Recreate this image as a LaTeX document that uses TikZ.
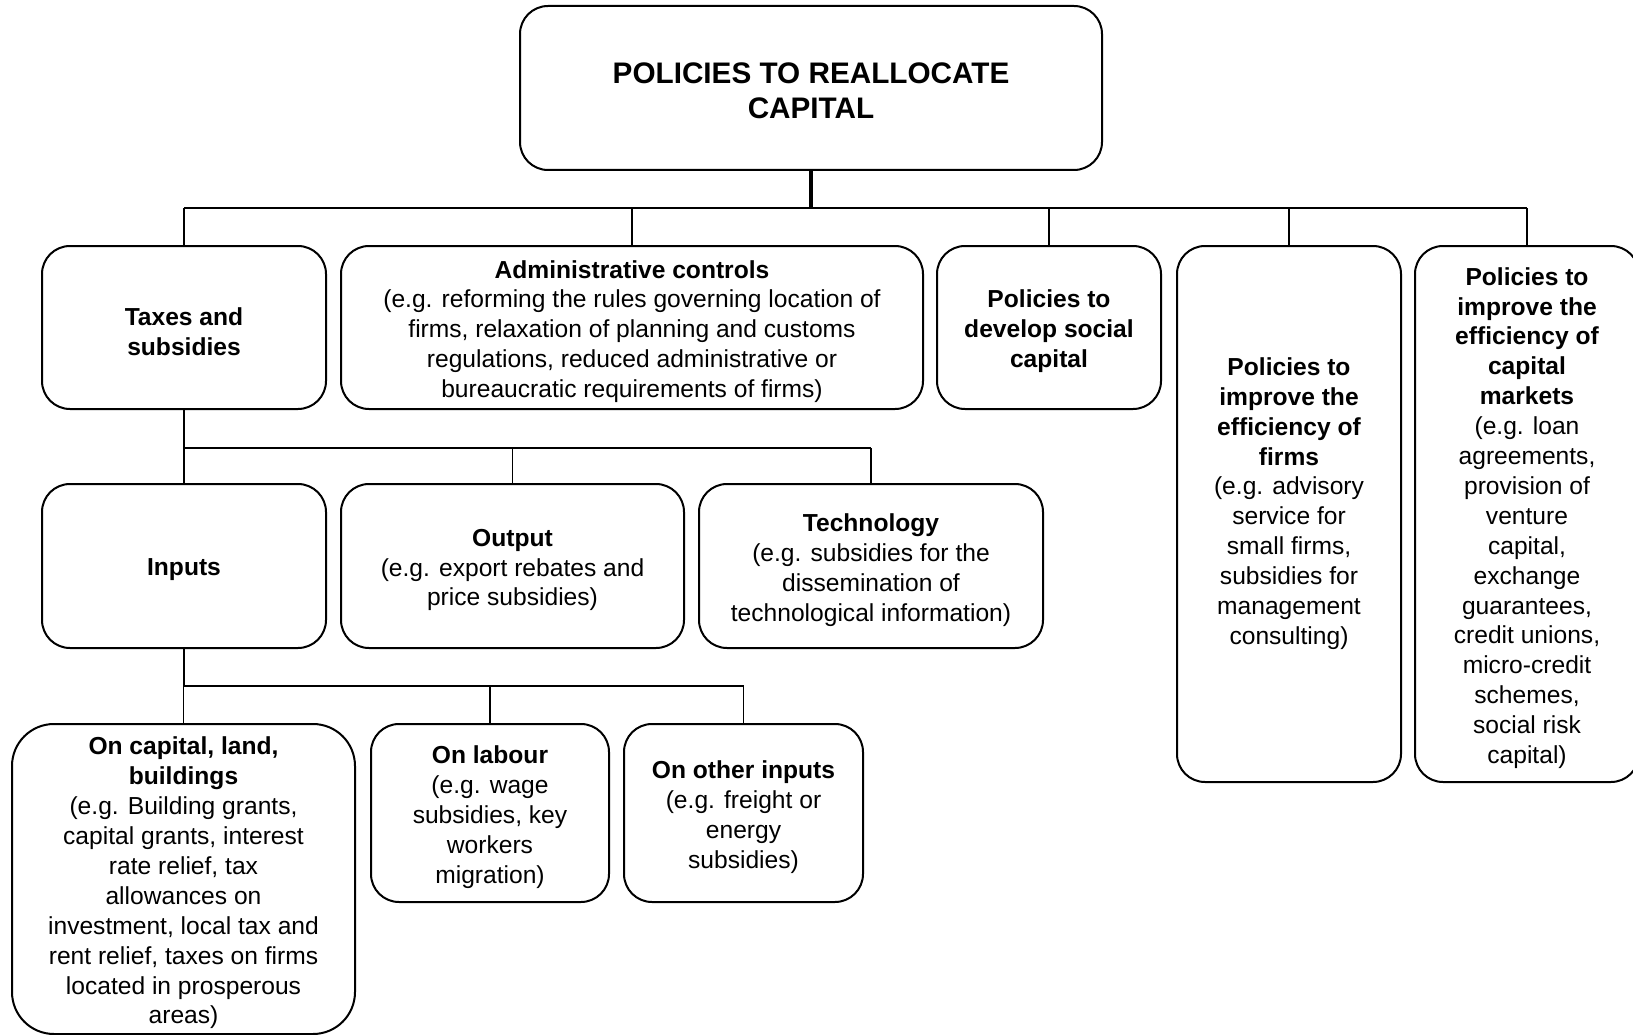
\documentclass[tikz,border=0pt]{standalone}
\usepackage{fontspec}
\setmainfont{Liberation Sans}
\newcommand\boxnode[6][]{%
  \node[box,#1,minimum width=#4,minimum height=#5] (#2) at (#3) {};
  \node[txt,yshift=-4pt] (#2-t) at (#2.center) {#6};}
\begin{document}
\begin{tikzpicture}[x=1pt,y=-1pt,
  box/.style={draw=black,line width=2pt,rounded corners=28pt,inner sep=0pt},
  txt/.style={inner sep=0pt,align=center,font=\fontsize{24.6}{29.9}\selectfont},
  drop/.style={line width=1.6pt},
  bus/.style={line width=2.6pt}]
\useasboundingbox (0,0) rectangle (1633,1035);
% top
\node[box,minimum width=582pt,minimum height=164pt] (top) at (811,88) {};
\node[txt,yshift=-3pt,font=\fontsize{29.7}{35.4}\selectfont\bfseries] (top-t) at (top.center)
  {POLICIES TO REALLOCATE\\CAPITAL};
% level 1
\boxnode{taxes}{184,327.5}{284pt}{163pt}{\textbf{Taxes and}\\\textbf{subsidies}}
\boxnode{admin}{632,327.5}{582pt}{163pt}
  {\textbf{Administrative controls}\\(e.g. reforming the rules governing location of\\firms, relaxation of planning and customs\\regulations, reduced administrative or\\bureaucratic requirements of firms)}
\boxnode{social}{1049,327.5}{224pt}{163pt}
  {\textbf{Policies to}\\\textbf{develop social}\\\textbf{capital}}
\node[box,minimum width=224pt,minimum height=536pt] (firms) at (1289,514) {};
\node[txt] (firms-t) at (1289,503.5)
  {\textbf{Policies to}\\\textbf{improve the}\\\textbf{efficiency of}\\\textbf{firms}\\(e.g. advisory\\service for\\small firms,\\subsidies for\\management\\consulting)};
\boxnode{markets}{1527,514}{224pt}{536pt}
  {\textbf{Policies to}\\\textbf{improve the}\\\textbf{efficiency of}\\\textbf{capital}\\\textbf{markets}\\(e.g. loan\\agreements,\\provision of\\venture\\capital,\\exchange\\guarantees,\\credit unions,\\micro-credit\\schemes,\\social risk\\capital)}
% level 2
\boxnode{inputs}{184,566}{284pt}{164pt}{\textbf{Inputs}}
\boxnode{output}{512.5,566}{343pt}{164pt}
  {\textbf{Output}\\(e.g. export rebates and\\price subsidies)}
\boxnode{tech}{871,566}{344pt}{164pt}
  {\textbf{Technology}\\(e.g. subsidies for the\\dissemination of\\technological information)}
% level 3
\boxnode[rounded corners=42pt]{capital}{183.5,879}{343pt}{310pt}
  {\textbf{On capital, land,}\\\textbf{buildings}\\(e.g. Building grants,\\capital grants, interest\\rate relief, tax\\allowances on\\investment, local tax and\\rent relief, taxes on firms\\located in prosperous\\areas)}
\boxnode{labour}{490,813}{238pt}{178pt}
  {\textbf{On labour}\\(e.g. wage\\subsidies, key\\workers\\migration)}
\boxnode{other}{743.5,813}{239pt}{178pt}
  {\textbf{On other inputs}\\(e.g. freight or\\energy\\subsidies)}
% connectors
\coordinate (b1) at (811,208);
\coordinate (b2) at (184,448);
\coordinate (b3) at (184,686);
\draw[line width=3.5pt] (top.south) -- (b1);
\draw[bus] (taxes.north |- b1) -- (markets.north |- b1);
\foreach \n in {taxes,admin,social,firms,markets}
  \draw[drop] (\n.north) -- (\n.north |- b1);
\draw[bus] (taxes.south) -- (b2);
\draw[bus] (b2) -- (tech.north |- b2);
\foreach \n in {inputs,output,tech}
  \draw[drop] (\n.north) -- (\n.north |- b2);
\draw[bus] (inputs.south) -- (b3);
\draw[bus] (b3) -- (other.north |- b3);
\foreach \n in {capital,labour,other}
  \draw[drop] (\n.north) -- (\n.north |- b3);
\end{tikzpicture}
\end{document}
